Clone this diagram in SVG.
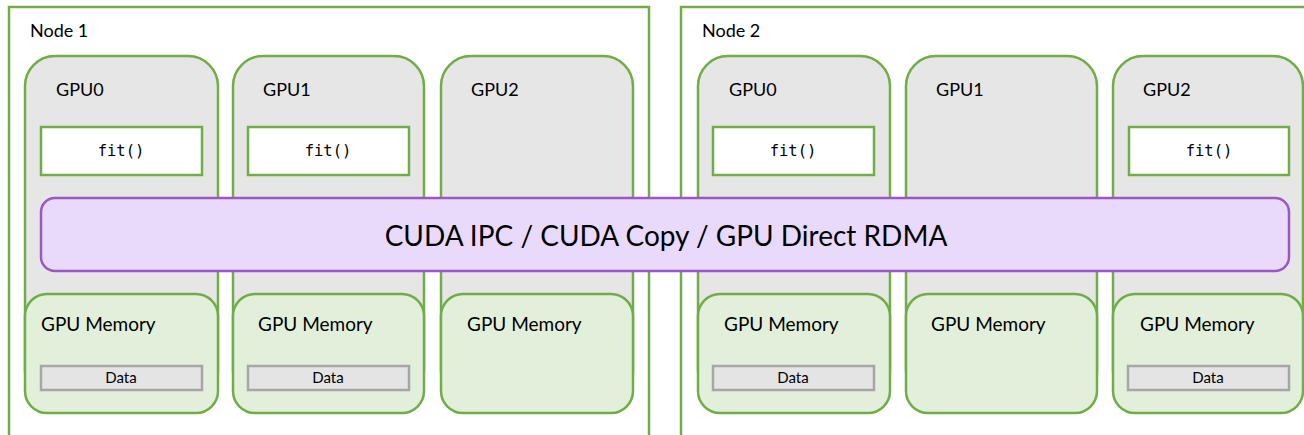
<svg xmlns="http://www.w3.org/2000/svg" width="1304" height="435" viewBox="0 0 1304 435">
<style>
.node{fill:#ffffff;stroke:#70AD47;stroke-width:2.5}
.gpu{fill:#E6E6E6;stroke:#70AD47;stroke-width:2.5}
.fit{fill:#ffffff;stroke:#70AD47;stroke-width:2.5}
.mem{fill:#E2EFDA;stroke:#70AD47;stroke-width:2.5}
.data{fill:#E4E4E4;stroke:#A6A6A6;stroke-width:2.5}
.bus{fill:#E9DAFC;stroke:#9B57C2;stroke-width:2.5}
.lbl{font-family:Lato,"Liberation Sans",sans-serif;font-size:18px;fill:#000}
.mlbl{font-family:Lato,"Liberation Sans",sans-serif;font-size:19px;fill:#000}
.code{font-family:"DejaVu Sans Mono","Liberation Mono",monospace;font-size:15.5px;fill:#000;text-anchor:middle}
.small{font-family:Lato,"Liberation Sans",sans-serif;font-size:15px;fill:#000;text-anchor:middle}
.big{font-family:Lato,"Liberation Sans",sans-serif;font-size:28px;fill:#000;text-anchor:middle}
</style>
<rect width="1304" height="435" fill="#ffffff"/>
<g id="node1">
<rect class="node" x="9" y="7" width="640" height="450"/>
<text class="lbl" x="30" y="37">Node 1</text>
</g>
<g id="node2">
<rect class="node" x="681" y="7" width="640" height="450"/>
<text class="lbl" x="702" y="37">Node 2</text>
</g>
<g id="n1gpu0">
<rect class="gpu" x="25" y="56" width="193" height="344" rx="30"/>
<text class="lbl" x="56" y="96">GPU0</text>
<rect class="fit" x="41" y="127" width="161" height="48"/>
<text class="code" x="121" y="156">fit()</text>
</g>
<g id="n1gpu1">
<rect class="gpu" x="233" y="56" width="191" height="344" rx="30"/>
<text class="lbl" x="263" y="96">GPU1</text>
<rect class="fit" x="248" y="127" width="161" height="48"/>
<text class="code" x="328" y="156">fit()</text>
</g>
<g id="n1gpu2">
<rect class="gpu" x="441" y="56" width="192" height="344" rx="30"/>
<text class="lbl" x="471" y="96">GPU2</text>
</g>
<g id="n2gpu0">
<rect class="gpu" x="698" y="56" width="192" height="344" rx="30"/>
<text class="lbl" x="729" y="96">GPU0</text>
<rect class="fit" x="713" y="127" width="161" height="48"/>
<text class="code" x="793" y="156">fit()</text>
</g>
<g id="n2gpu1">
<rect class="gpu" x="906" y="56" width="191" height="344" rx="30"/>
<text class="lbl" x="936" y="96">GPU1</text>
</g>
<g id="n2gpu2">
<rect class="gpu" x="1113" y="56" width="190" height="344" rx="30"/>
<text class="lbl" x="1143" y="96">GPU2</text>
<rect class="fit" x="1129" y="127" width="160" height="48"/>
<text class="code" x="1209" y="156">fit()</text>
</g>
<g id="bus">
<rect class="bus" x="41" y="198" width="1248" height="73" rx="14"/>
<text class="big" x="666" y="246">CUDA IPC / CUDA Copy / GPU Direct RDMA</text>
</g>
<g id="n1mem0">
<rect class="mem" x="25" y="294" width="193" height="119" rx="22"/>
<text class="mlbl" x="41" y="331">GPU Memory</text>
<rect class="data" x="41" y="366" width="161" height="24"/>
<text class="small" x="121" y="383">Data</text>
</g>
<g id="n1mem1">
<rect class="mem" x="233" y="294" width="191" height="119" rx="22"/>
<text class="mlbl" x="258" y="331">GPU Memory</text>
<rect class="data" x="248" y="366" width="161" height="24"/>
<text class="small" x="328" y="383">Data</text>
</g>
<g id="n1mem2">
<rect class="mem" x="441" y="294" width="192" height="119" rx="22"/>
<text class="mlbl" x="467" y="331">GPU Memory</text>
</g>
<g id="n2mem0">
<rect class="mem" x="698" y="294" width="192" height="119" rx="22"/>
<text class="mlbl" x="724" y="331">GPU Memory</text>
<rect class="data" x="713" y="366" width="161" height="24"/>
<text class="small" x="793" y="383">Data</text>
</g>
<g id="n2mem1">
<rect class="mem" x="906" y="294" width="191" height="119" rx="22"/>
<text class="mlbl" x="931" y="331">GPU Memory</text>
</g>
<g id="n2mem2">
<rect class="mem" x="1113" y="294" width="190" height="119" rx="22"/>
<text class="mlbl" x="1140" y="331">GPU Memory</text>
<rect class="data" x="1128" y="366" width="161" height="24"/>
<text class="small" x="1208" y="383">Data</text>
</g>
<g id="connectors"></g>
</svg>
